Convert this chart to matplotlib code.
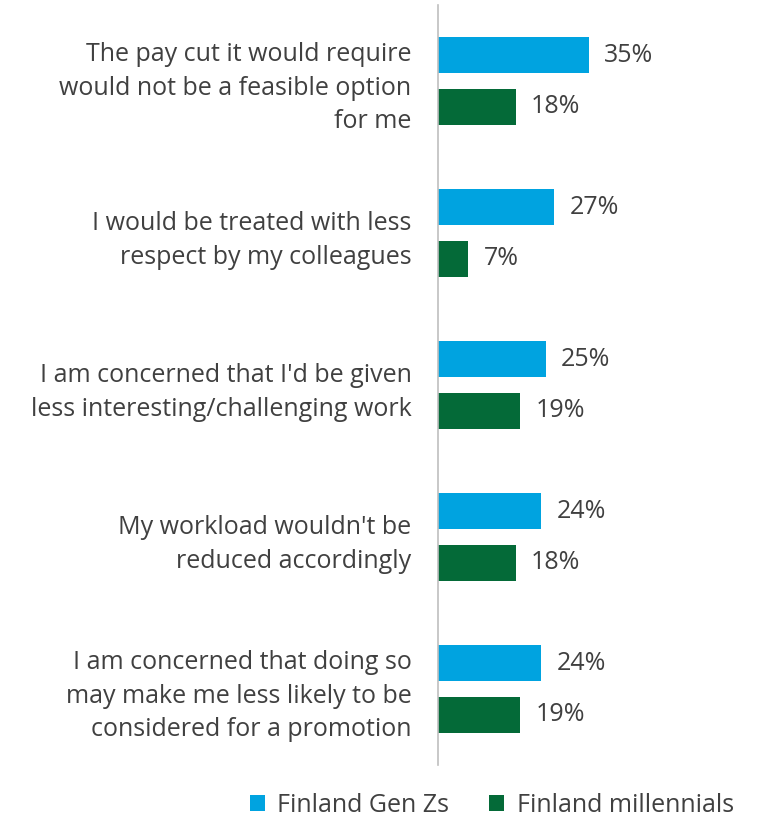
import matplotlib.pyplot as plt
import numpy as np

plt.rcParams['font.family'] = ['Open Sans', 'DejaVu Sans']

categories = [
    "The pay cut it would require\nwould not be a feasible option\nfor me",
    "I would be treated with less\nrespect by my colleagues",
    "I am concerned that I'd be given\nless interesting/challenging work",
    "My workload wouldn't be\nreduced accordingly",
    "I am concerned that doing so\nmay make me less likely to be\nconsidered for a promotion",
]
gen_z = [35, 27, 25, 24, 24]
millennials = [18, 7, 19, 18, 19]

blue = "#00A3E0"
green = "#046A38"
text_color = "#404040"

fig = plt.figure(figsize=(7.61, 8.17), dpi=100)
ax = fig.add_axes([438 / 761, 52 / 817, (761 - 438) / 761, 760 / 817])

y = np.arange(len(categories))
h = 0.24
off = 0.17
b1 = ax.barh(y - off, gen_z, height=h, color=blue, label="Finland Gen Zs")
b2 = ax.barh(y + off, millennials, height=h, color=green, label="Finland millennials")

for bars, vals in ((b1, gen_z), (b2, millennials)):
    for bar, v in zip(bars, vals):
        ax.text(bar.get_width() + 3.6, bar.get_y() + bar.get_height() / 2,
                f"{v}%", va="center", ha="left", fontsize=18, color=text_color)

ax.set_xlim(0, 75)
ax.set_ylim(len(categories) - 0.5, -0.5)
ax.set_yticks(y)
ax.set_yticklabels(categories, fontsize=18, color=text_color, linespacing=1.45)
ax.tick_params(axis="y", length=0, pad=19)
ax.set_xticks([])
for s in ("top", "right", "bottom"):
    ax.spines[s].set_visible(False)
ax.spines["left"].set_color("#BFBFBF")
ax.spines["left"].set_linewidth(1.2)

fig.legend(handles=[b1, b2], loc="center", bbox_to_anchor=(492 / 761, 1 - 805 / 817),
           ncol=2, frameon=False, fontsize=18, handlelength=0.6, handleheight=0.6,
           columnspacing=1.6, handletextpad=0.5, labelcolor=text_color)

fig.savefig("out.png", dpi=100)
